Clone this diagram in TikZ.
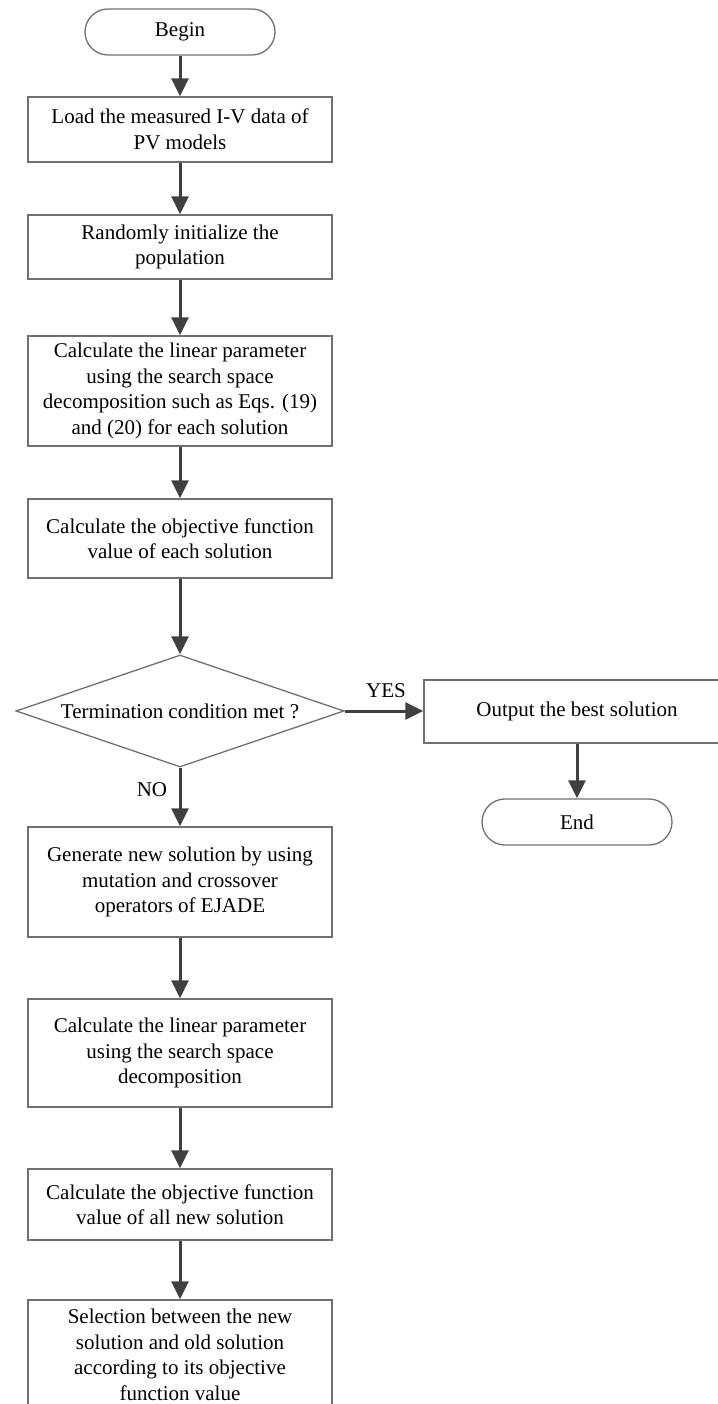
\documentclass[tikz,border=0pt]{standalone}
\usepackage{fontspec}
\setmainfont{Liberation Serif}
\usetikzlibrary{arrows.meta,shapes.geometric}
\definecolor{boxgray}{HTML}{707070}
\definecolor{arrgray}{HTML}{404040}
\begin{document}
\begin{tikzpicture}[x=1pt,y=-1pt,
  txt/.style={font=\fontsize{21}{25.5}\selectfont},
  box/.style={txt,draw=boxgray,line width=1.3pt,rectangle,minimum width=304pt,inner sep=0pt,align=center},
  term/.style={txt,draw=boxgray,line width=1.3pt,rectangle,rounded corners=23pt,minimum width=190pt,minimum height=46pt,inner sep=0pt},
  dec/.style={txt,draw=boxgray,line width=1.3pt,diamond,aspect=2.93,minimum width=328pt,minimum height=112pt,inner sep=0pt},
  arr/.style={draw=arrgray,line width=3pt,-{Triangle[width=17pt,length=18pt]},color=arrgray},
  lbl/.style={txt,inner sep=0pt}]
\useasboundingbox (0,0) rectangle (717,1404);
\node[term] (begin) at (180,32) {Begin};
\node[box,minimum height=65pt] (b1) at (180,129.5) {Load the measured I-V data of\\PV models};
\node[box,minimum height=64pt] (b2) at (180,247) {Randomly initialize the\\population};
\node[box,minimum height=110pt] (b3) at (180,391) {Calculate the linear parameter\\using the search space\\decomposition such as Eqs. (19)\\and (20) for each solution};
\node[box,minimum height=79pt] (b4) at (180,538.5) {Calculate the objective function\\value of each solution};
\node[dec] (d) at (180,711) {Termination condition met ?};
\node[box,minimum width=306pt,minimum height=63pt] (out) at (577,711.5) {Output the best solution};
\node[term] (end) at (577,822) {End};
\node[box,minimum height=110pt] (b5) at (180,882) {Generate new solution by using\\mutation and crossover\\operators of EJADE};
\node[box,minimum height=108pt] (b6) at (180,1053) {Calculate the linear parameter\\using the search space\\decomposition};
\node[box,minimum height=71pt] (b7) at (180,1204.5) {Calculate the objective function\\value of all new solution};
\node[box,minimum height=110pt] (b8) at (180,1355) {Selection between the new\\solution and old solution\\according to its objective\\function value};
\node[lbl] (yes) at (386,691) {YES};
\node[lbl] (no) at (152,790) {NO};
\draw[arr] (begin) -- (b1);
\draw[arr] (b1) -- (b2);
\draw[arr] (b2) -- (b3);
\draw[arr] (b3) -- (b4);
\draw[arr] (b4) -- (d);
\draw[arr] (d.east) -- (d.east -| out.west);
\draw[arr] (out) -- (end);
\draw[arr] (d) -- (b5);
\draw[arr] (b5) -- (b6);
\draw[arr] (b6) -- (b7);
\draw[arr] (b7) -- (b8);
\end{tikzpicture}
\end{document}
